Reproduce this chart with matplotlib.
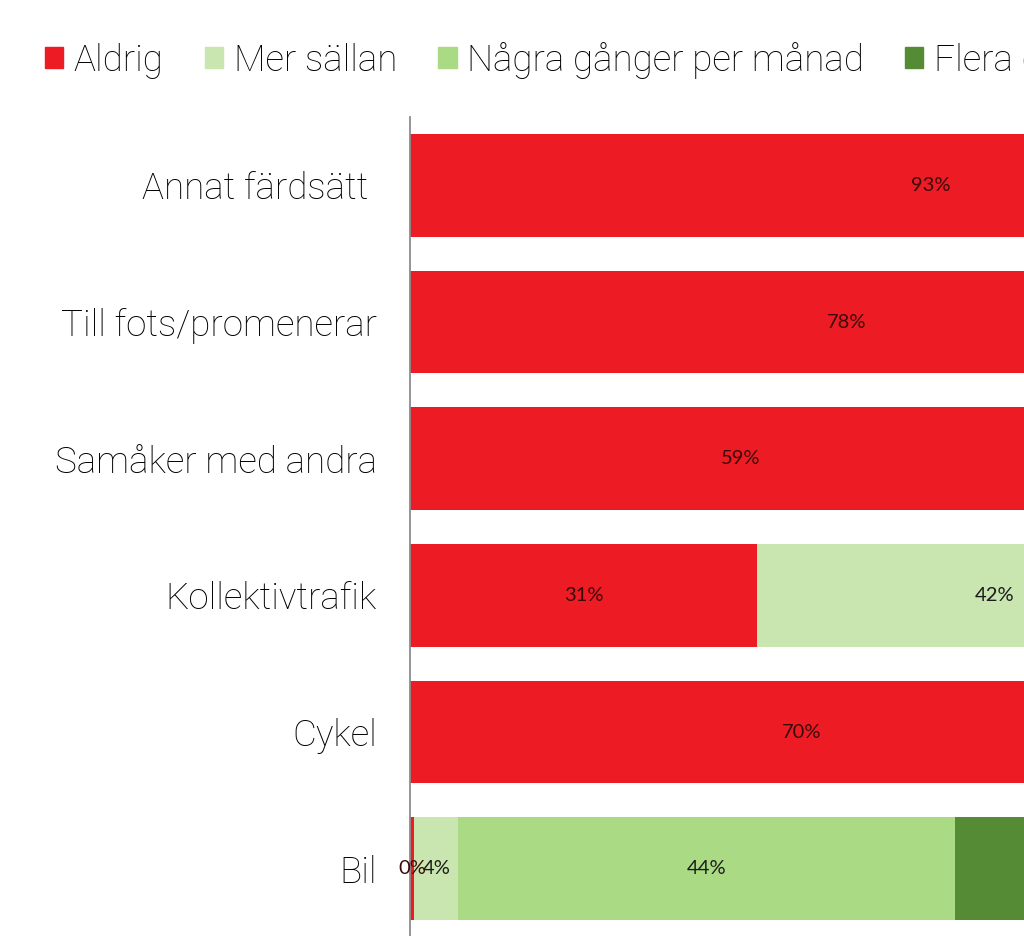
import numpy as np
import matplotlib
matplotlib.use('Agg')
import matplotlib.pyplot as plt
from matplotlib.patches import Patch

# Kategorier, uppifrån och ned
categories = ['Annat färdsätt ', 'Till fots/promenerar', 'Samåker med andra',
              'Kollektivtrafik', 'Cykel', 'Bil']

series_names = ['Aldrig', 'Mer sällan', 'Några gånger per månad',
                'Flera gånger per vecka', 'Dagligen']

# andel (%) per kategori för varje svarsalternativ
aldrig = [93, 78, 59, 31, 70, 0.4]
mer_sallan = [4, 12, 27, 42.4, 14, 3.9]
nagra_ggr_manad = [2, 6, 10, 17, 9, 44.4]
flera_ggr_vecka = [1, 3, 3, 7, 5, 36]
dagligen = [0, 1, 1, 2.6, 2, 15.3]

colors = ['#ed1c24', '#c9e5b0', '#aadb84', '#548b34', '#2f6a1e']
label_colors = ['#3a0a0a', '#1c1c1c', '#1c1c1c', '#ffffff', '#ffffff']

values = [aldrig, mer_sallan, nagra_ggr_manad, flera_ggr_vecka, dagligen]

W, H = 1024, 936
fig = plt.figure(figsize=(W / 100, H / 100), dpi=100)
# axeln fortsätter utanför bilden till höger (bilden är beskuren)
ax = fig.add_axes([410 / W, -1 / H, 1120 / W, 820 / H])

y = np.arange(len(categories))
left = np.zeros(len(categories))
for name, vals, col, lcol in zip(series_names, values, colors, label_colors):
    vals = np.array(vals, dtype=float)
    ax.barh(y, vals, left=left, height=0.75, color=col, label=name)
    for yi, l, v in zip(y, left, vals):
        ax.text(l + v / 2, yi, '{:.0f}%'.format(v), ha='center', va='center',
                fontsize=14.5, color=lcol, family='Lato')
    left += vals

ax.set_xlim(0, 100)
ax.set_ylim(len(categories) - 0.5, -0.5)
ax.set_yticks(y)
ax.set_yticklabels(categories, fontsize=26.5, family='Roboto', fontweight='light')
ax.tick_params(axis='y', length=0, pad=24)
ax.set_xticks([])
for s in ['top', 'right', 'bottom']:
    ax.spines[s].set_visible(False)
ax.spines['left'].set_color('#8c8c8c')
ax.spines['left'].set_linewidth(1.3)

handles = [Patch(color=c, label=n) for c, n in zip(colors, series_names)]
fig.legend(handles=handles, loc='upper left', bbox_to_anchor=(45 / W, 1 - 42 / H),
           ncol=5, frameon=False, borderpad=0, borderaxespad=0,
           handlelength=0.5, handleheight=0.5, handletextpad=0.28,
           columnspacing=1.12,
           prop={'family': 'Roboto', 'weight': 'light', 'size': 26.5})

fig.savefig('out.png', dpi=100)
